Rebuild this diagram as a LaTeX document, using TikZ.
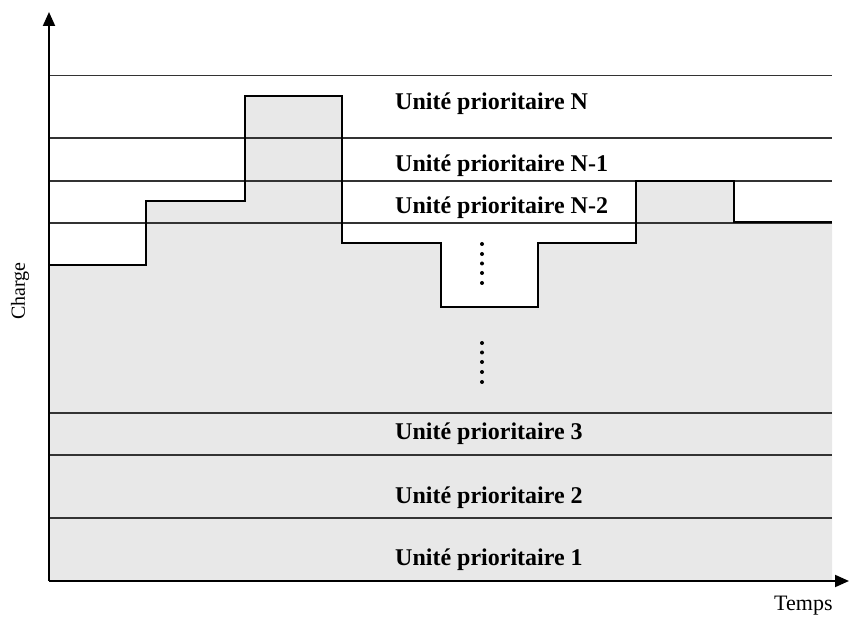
\documentclass[tikz,border=0pt]{standalone}
\usepackage{fontspec}
\setmainfont{Liberation Serif}
\usetikzlibrary{arrows.meta}
\definecolor{fillgray}{HTML}{E8E8E8}
\tikzset{
  grid line/.style={line width=1.9pt, black!80},
  step line/.style={line width=2.8pt, black, line join=miter},
  axis line/.style={line width=2pt, black, -{Triangle[length=14pt,width=12pt]}},
  unit label/.style={anchor=base west, inner sep=0pt, font=\fontsize{24}{28}\selectfont\bfseries},
  axis label/.style={inner sep=0pt, font=\fontsize{20}{24}\selectfont},
  dotmark/.style={circle, fill=black, inner sep=0pt, minimum size=4pt}
}
\begin{document}
\begin{tikzpicture}[x=1pt,y=-1pt]
\useasboundingbox (0,0) rectangle (849,617);
% filled load area
\fill[fillgray] (49,581) -- (49,265) -- (146,265) -- (146,201) -- (245,201) -- (245,96)
  -- (342,96) -- (342,243) -- (441,243) -- (441,307) -- (538,307) -- (538,243)
  -- (636,243) -- (636,181) -- (734,181) -- (734,222) -- (832,222) -- (832,581) -- cycle;
% priority level lines
\foreach \yy in {75.5,138,181,223,413,455,518}
  \draw[grid line] (49,\yy) -- (832,\yy);
% step curve
\draw[step line] (49,265) -- (146,265) -- (146,201) -- (245,201) -- (245,96)
  -- (342,96) -- (342,243) -- (441,243) -- (441,307) -- (538,307) -- (538,243)
  -- (636,243) -- (636,181) -- (734,181) -- (734,222) -- (832,222);
% axes
\coordinate (origin) at (49,581);
\coordinate (ytip) at (49,12);
\coordinate (xtip) at (849,581);
\draw[axis line] (origin) -- (ytip);
\draw[axis line] (origin) -- (xtip);
% labels
\node[unit label] (uN)  at (395,110) {Unité prioritaire N};
\node[unit label] (uN1) at (395,172) {Unité prioritaire N-1};
\node[unit label] (uN2) at (395,214) {Unité prioritaire N-2};
\node[unit label] (u3)  at (395,440) {Unité prioritaire 3};
\node[unit label] (u2)  at (395,503) {Unité prioritaire 2};
\node[unit label] (u1)  at (395,565) {Unité prioritaire 1};
\node[axis label, rotate=90] (charge) at (20,291) {Charge};
\node[axis label, anchor=base west, font=\fontsize{22}{26}\selectfont] (temps) at (774,610) {Temps};
% vertical ellipsis dots
\foreach \yy [count=\i] in {244,254,263.5,273,283}
  \node[dotmark] (da\i) at (482,\yy) {};
\foreach \yy [count=\i] in {343,352.5,362,372,382}
  \node[dotmark] (db\i) at (482,\yy) {};
\end{tikzpicture}
\end{document}
